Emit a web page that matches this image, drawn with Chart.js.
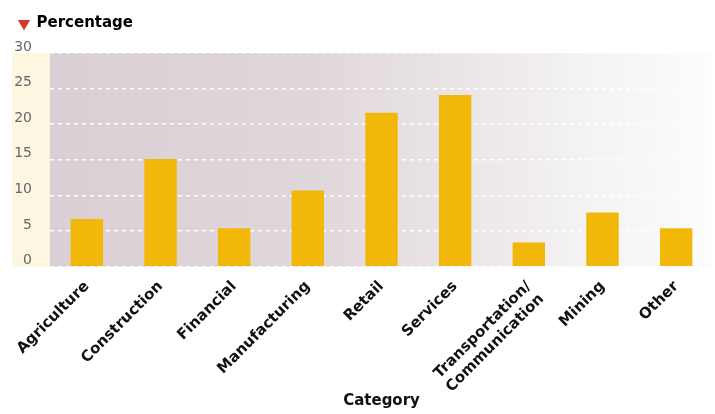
<!DOCTYPE html>
<html>
<head>
<meta charset="utf-8">
<script src="https://cdn.jsdelivr.net/npm/chart.js@4"></script>
<style>
  html, body { margin: 0; padding: 0; background: #fff; }
  #wrap { width: 715px; height: 414px; position: relative; }
</style>
</head>
<body>
<div id="wrap"><canvas id="barChart"></canvas></div>
<script>
var categories = ['Agriculture', 'Construction', 'Financial', 'Manufacturing', 'Retail',
    'Services', ['Transportation/', 'Communication'], 'Mining', 'Other'];
var percentages = [6.7, 15.1, 5.4, 10.7, 21.6, 24.1, 3.4, 7.6, 5.4];
var yTicks = [0, 5, 10, 15, 20, 25, 30];

// faded halftone-ish background behind the plot
var backdrop = {
    id: 'backdrop',
    beforeDraw: function (chart) {
        var ctx = chart.ctx;
        var a = chart.chartArea;
        ctx.save();
        ctx.fillStyle = '#fdf6e0';
        ctx.fillRect(a.left - 38, a.top, 38, a.bottom - a.top);
        var g = ctx.createLinearGradient(a.left, 0, a.right, 0);
        g.addColorStop(0, 'rgb(218,207,212)');
        g.addColorStop(0.4, 'rgb(224,215,219)');
        g.addColorStop(0.62, 'rgb(235,229,232)');
        g.addColorStop(0.82, 'rgb(245,243,244)');
        g.addColorStop(1, 'rgb(253,253,253)');
        ctx.fillStyle = g;
        ctx.fillRect(a.left, a.top, a.right - a.left, a.bottom - a.top);
        ctx.restore();
    }
};

// extra room under the legend
var legendGap = {
    id: 'legendGap',
    beforeInit: function (chart) {
        var fit = chart.legend.fit;
        chart.legend.fit = function () {
            fit.bind(chart.legend)();
            this.height += 12;
        };
    }
};

var ctx = document.getElementById('barChart').getContext('2d');
var barChart = new Chart(ctx, {
    type: 'bar',
    data: {
        labels: categories,
        datasets: [{
            label: 'Percentage',
            data: percentages,
            backgroundColor: '#f1b80a',
            borderWidth: 0,
            categoryPercentage: 1,
            barPercentage: 0.44
        }]
    },
    options: {
        responsive: true,
        maintainAspectRatio: false,
        animation: false,
        layout: { autoPadding: false, padding: { left: 7, right: 2, top: 4, bottom: 4 } },
        plugins: {
            tooltip: { enabled: false },
            legend: {
                position: 'top',
                align: 'start',
                labels: {
                    usePointStyle: true,
                    boxWidth: 10,
                    boxHeight: 10,
                    padding: 12,
                    color: '#111',
                    font: { family: 'DejaVu Sans', size: 15, weight: 'bold' },
                    generateLabels: function (chart) {
                        return [{
                            text: chart.data.datasets[0].label,
                            fillStyle: '#d9342b',
                            strokeStyle: '#d9342b',
                            lineWidth: 0,
                            pointStyle: 'triangle',
                            rotation: 180,
                            datasetIndex: 0
                        }];
                    }
                }
            }
        },
        scales: {
            x: {
                afterFit: function (scale) { scale.height -= 7; },
                grid: { display: false },
                border: { display: false },
                ticks: {
                    color: '#111',
                    maxRotation: 45,
                    minRotation: 45,
                    autoSkip: false,
                    font: { family: 'DejaVu Sans', size: 15, weight: 'bold' }
                },
                title: {
                    display: true,
                    text: 'Category',
                    color: '#111',
                    padding: { top: 0, bottom: 0 },
                    font: { family: 'DejaVu Sans', size: 15, weight: 'bold' }
                }
            },
            y: {
                min: 0,
                max: 30,
                afterBuildTicks: function (scale) {
                    scale.ticks = yTicks.map(function (v) { return { value: v }; });
                },
                afterFit: function (scale) { scale.width = 43; },
                grid: {
                    color: 'rgba(255,255,255,0.95)',
                    lineWidth: 1.5,
                    drawTicks: false
                },
                border: { display: false, dash: [4, 4] },
                ticks: {
                    color: '#666',
                    padding: 18,
                    labelOffset: -6,
                    font: { family: 'DejaVu Sans', size: 14 }
                }
            }
        }
    },
    plugins: [backdrop, legendGap]
});
</script>
</body>
</html>
